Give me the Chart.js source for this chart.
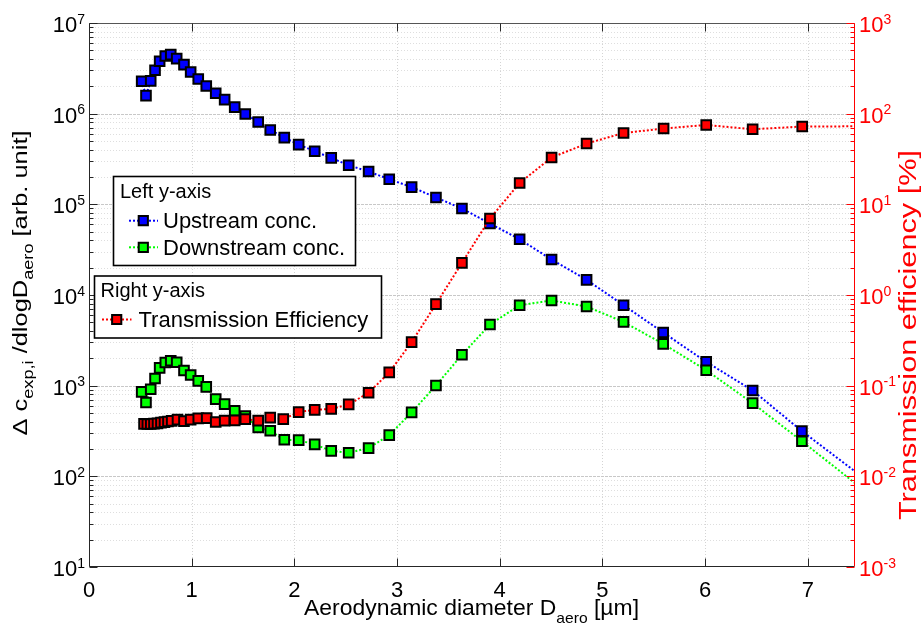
<!DOCTYPE html>
<html>
<head>
<meta charset="utf-8">
<script src="https://cdn.jsdelivr.net/npm/chart.js@4/dist/chart.umd.min.js"></script>
<style>
html,body{margin:0;padding:0;background:#ffffff;}
#wrap{width:921px;height:626px;position:relative;}
</style>
</head>
<body>
<div id="wrap"><canvas id="c" width="921" height="626"></canvas></div>
<script>
// ---------------- data ----------------
const diameterUpDown = [0.513,0.555,0.601,0.643,0.688,0.743,0.796,0.854,0.925,0.990,1.064,1.142,1.234,1.321,1.419,1.522,1.648,1.765,1.902,2.042,2.198,2.359,2.529,2.723,2.924,3.142,3.379,3.632,3.905,4.194,4.505,4.846,5.206,5.592,6.011,6.463,6.943,7.55];
const upstreamConc = [2.28e6,1.58e6,2.30e6,3.01e6,3.78e6,4.33e6,4.48e6,4.05e6,3.47e6,2.88e6,2.41e6,2.02e6,1.68e6,1.43e6,1.18e6,9.93e5,8.10e5,6.61e5,5.45e5,4.56e5,3.85e5,3.25e5,2.70e5,2.30e5,1.89e5,1.55e5,1.19e5,8.99e4,6.14e4,4.12e4,2.46e4,1.47e4,7.72e3,3.86e3,1.83e3,885,315,95];
const downstreamConc = [855,653,914,1200,1570,1800,1880,1810,1470,1310,1130,971,710,625,527,461,346,318,253,251,225,191,182,205,285,507,1005,2190,4730,7720,8700,7460,5050,2890,1480,641,244,70];
const diameterTransmission = [0.536,0.568,0.601,0.633,0.667,0.701,0.735,0.769,0.805,0.862,0.925,0.990,1.064,1.146,1.234,1.321,1.419,1.522,1.648,1.765,1.892,2.042,2.198,2.359,2.529,2.723,2.924,3.142,3.379,3.632,3.905,4.194,4.505,4.846,5.206,5.596,6.011,6.463,6.946,7.55];
const transmissionEff = [0.0379,0.0378,0.0378,0.0381,0.0384,0.0391,0.0396,0.0403,0.0409,0.0422,0.0406,0.0422,0.0436,0.0438,0.0398,0.0411,0.0414,0.0427,0.0411,0.0444,0.0427,0.0511,0.0541,0.0555,0.0621,0.0834,0.140,0.302,0.792,2.26,6.97,17.2,32.8,46.8,61.2,68.5,75.1,67.3,72.1,72.6];
const xTickValues = [0,1,2,3,4,5,6,7];
const leftDecadeExponents = [1,2,3,4,5,6,7];
const rightDecadeExponents = [-3,-2,-1,0,1,2,3];
const seriesNames = ['Upstream conc.','Downstream conc.','Transmission Efficiency'];
const legendTitles = ['Left y-axis','Right y-axis'];

// ---------------- helpers ----------------
const FONT = "'Liberation Sans', Arial, Helvetica, sans-serif";
const toPts = (xs, ys) => xs.map((x, i) => ({x: x, y: ys[i]}));

function richWidth(ctx, segs){
  let w = 0;
  for (const s of segs){ ctx.font = s.size + 'px ' + FONT; w += ctx.measureText(s.text).width; }
  return w;
}
function drawRich(ctx, segs, x, y, o){
  o = o || {};
  ctx.save();
  ctx.translate(x, y);
  if (o.rotate) ctx.rotate(o.rotate);
  let w = richWidth(ctx, segs);
  let st = o.stretch || 1;
  if (o.length) st = o.length / w;
  ctx.scale(st, 1);
  let cx = o.align === 'center' ? -w/2 : (o.align === 'right' ? -w : 0);
  ctx.fillStyle = o.color || '#000';
  ctx.textAlign = 'left';
  ctx.textBaseline = 'alphabetic';
  for (const s of segs){
    ctx.font = s.size + 'px ' + FONT;
    ctx.fillText(s.text, cx, s.dy || 0);
    cx += ctx.measureText(s.text).width;
  }
  ctx.restore();
}
function marker(ctx, x, y, fill){
  ctx.save();
  ctx.fillStyle = fill; ctx.strokeStyle = '#000'; ctx.lineWidth = 2;
  ctx.beginPath(); ctx.rect(x - 4.6, y - 4.6, 9.2, 9.2); ctx.fill(); ctx.stroke();
  ctx.restore();
}
function dottedLine(ctx, x1, y1, x2, y2, color){
  ctx.save();
  ctx.strokeStyle = color; ctx.lineWidth = 2; ctx.setLineDash([2,2]);
  ctx.beginPath(); ctx.moveTo(x1, y1); ctx.lineTo(x2, y2); ctx.stroke();
  ctx.restore();
}

// ---------------- grid / axes / text plugin ----------------
const matlabAxes = {
  id: 'matlabAxes',
  beforeDatasetsDraw(chart){
    const ctx = chart.ctx, a = chart.chartArea;
    const xs = chart.scales.x, ys = chart.scales.y;
    ctx.save();
    ctx.lineWidth = 1;
    // x major grid
    ctx.strokeStyle = '#d4d4d4'; ctx.setLineDash([1,2]);
    for (const v of xTickValues){
      const px = Math.round(xs.getPixelForValue(v)) + 0.5;
      if (px <= a.left + 1 || px >= a.right - 1) continue;
      ctx.beginPath(); ctx.moveTo(px, a.top); ctx.lineTo(px, a.bottom); ctx.stroke();
    }
    // y minor + major grid (log)
    for (let k = 0; k < leftDecadeExponents.length; k++){
      const e = leftDecadeExponents[k];
      for (let m = 1; m <= 9; m++){
        if (k === leftDecadeExponents.length - 1 && m > 1) break;
        const py = Math.round(ys.getPixelForValue(m * Math.pow(10, e))) + 0.5;
        if (py <= a.top + 1 || py >= a.bottom - 1) continue;
        ctx.strokeStyle = m === 1 ? '#c8c8c8' : '#dedede';
        ctx.setLineDash(m === 1 ? [3,1] : [1,2]);
        ctx.beginPath(); ctx.moveTo(a.left, py); ctx.lineTo(a.right, py); ctx.stroke();
      }
    }
    ctx.restore();
  },
  afterDatasetsDraw(chart){
    const ctx = chart.ctx, a = chart.chartArea;
    const xs = chart.scales.x, ys = chart.scales.y, y2 = chart.scales.y2;
    const axisCol = '#262626', red = '#ff0000';
    ctx.save();
    ctx.lineWidth = 1; ctx.setLineDash([]);
    const L = Math.round(a.left) + 0.5, R = Math.round(a.right) - 0.5;
    const T = Math.round(a.top) + 0.5, B = Math.round(a.bottom) - 0.5;
    ctx.strokeStyle = axisCol;
    ctx.beginPath(); ctx.moveTo(L, T); ctx.lineTo(L, B); ctx.lineTo(R, B); ctx.stroke();
    ctx.strokeStyle = '#555555';
    ctx.beginPath(); ctx.moveTo(L, T); ctx.lineTo(R, T); ctx.stroke();
    ctx.strokeStyle = axisCol;
    for (const v of xTickValues){
      const px = Math.round(xs.getPixelForValue(v)) + 0.5;
      ctx.beginPath(); ctx.moveTo(px, B); ctx.lineTo(px, B - 8); ctx.stroke();
      ctx.beginPath(); ctx.moveTo(px, T); ctx.lineTo(px, T + 8); ctx.stroke();
    }
    for (let k = 0; k < leftDecadeExponents.length; k++){
      const e = leftDecadeExponents[k];
      for (let m = 1; m <= 9; m++){
        if (k === leftDecadeExponents.length - 1 && m > 1) break;
        const py = Math.round(ys.getPixelForValue(m * Math.pow(10, e))) + 0.5;
        ctx.beginPath(); ctx.moveTo(L, py); ctx.lineTo(L + (m === 1 ? 8 : 4), py); ctx.stroke();
      }
    }
    ctx.strokeStyle = red;
    ctx.beginPath(); ctx.moveTo(R, T); ctx.lineTo(R, B); ctx.stroke();
    for (let k = 0; k < rightDecadeExponents.length; k++){
      const e = rightDecadeExponents[k];
      for (let m = 1; m <= 9; m++){
        if (k === rightDecadeExponents.length - 1 && m > 1) break;
        const py = Math.round(y2.getPixelForValue(m * Math.pow(10, e))) + 0.5;
        ctx.beginPath(); ctx.moveTo(R, py); ctx.lineTo(R - (m === 1 ? 8 : 4), py); ctx.stroke();
      }
    }
    ctx.restore();

    // tick labels
    for (const e of leftDecadeExponents){
      const py = ys.getPixelForValue(Math.pow(10, e));
      drawRich(ctx, [{text:'10', size:22}, {text:String(e), size:14, dy:-8.5}], a.left - 4, py + 9, {align:'right'});
    }
    for (const e of rightDecadeExponents){
      const py = y2.getPixelForValue(Math.pow(10, e));
      drawRich(ctx, [{text:'10', size:22}, {text:String(e), size:14, dy:-8.5}], a.right + 4, py + 9, {align:'left', color:red});
    }
    for (const v of xTickValues){
      const px = xs.getPixelForValue(v);
      drawRich(ctx, [{text:String(v), size:22}], px, 597, {align:'center'});
    }
    // axis titles
    drawRich(ctx, [
      {text:'Aerodynamic diameter D', size:22},
      {text:'aero', size:15, dy:8},
      {text:' [\u00b5m]', size:22}
    ], 471.5, 615, {align:'center', length:335});
    drawRich(ctx, [
      {text:'\u0394 c', size:21},
      {text:'exp,i', size:15, dy:6},
      {text:' /dlogD', size:21},
      {text:'aero', size:15, dy:6},
      {text:' [arb. unit]', size:21}
    ], 27, 283, {align:'center', rotate:-Math.PI/2, length:305});
    drawRich(ctx, [{text:'Transmission efficiency [%]', size:23}], 916, 335,
      {align:'center', rotate:-Math.PI/2, length:370, color:red});
  },
  afterDraw(chart){
    const ctx = chart.ctx;
    ctx.save();
    ctx.fillStyle = '#fff'; ctx.strokeStyle = '#000'; ctx.lineWidth = 1.6;
    ctx.fillRect(113.5, 176.5, 242, 89); ctx.strokeRect(113.5, 176.5, 242, 89);
    ctx.fillRect(94.5, 276, 287, 62); ctx.strokeRect(94.5, 276, 287, 62);
    ctx.restore();
    drawRich(ctx, [{text:legendTitles[0], size:20}], 120, 198, {});
    dottedLine(ctx, 129, 220.7, 158, 220.7, '#0000ff');
    marker(ctx, 143.3, 220.7, '#0000ff');
    drawRich(ctx, [{text:seriesNames[0], size:22}], 163, 228, {});
    dottedLine(ctx, 129, 247.3, 158, 247.3, '#00ff00');
    marker(ctx, 143.3, 247.3, '#00ff00');
    drawRich(ctx, [{text:seriesNames[1], size:22}], 163, 255, {});
    drawRich(ctx, [{text:legendTitles[1], size:20}], 100.5, 297, {});
    dottedLine(ctx, 102, 319.5, 131.5, 319.5, '#ff0000');
    marker(ctx, 116.7, 319.5, '#ff0000');
    drawRich(ctx, [{text:seriesNames[2], size:22}], 138.5, 327, {});
  }
};

// ---------------- chart ----------------
const common = {
  borderWidth: 2, borderDash: [2,2], tension: 0, fill: false,
  pointStyle: 'rect', pointRadius: 6.8, pointHoverRadius: 6.8,
  pointBorderWidth: 2, pointBorderColor: '#000000', clip: 0
};
new Chart(document.getElementById('c'), {
  type: 'line',
  data: {
    datasets: [
      Object.assign({label: seriesNames[2], data: toPts(diameterTransmission, transmissionEff), yAxisID: 'y2',
        borderColor: '#ff0000', pointBackgroundColor: '#ff0000'}, common),
      Object.assign({label: seriesNames[1], data: toPts(diameterUpDown, downstreamConc), yAxisID: 'y',
        borderColor: '#00ff00', pointBackgroundColor: '#00ff00'}, common),
      Object.assign({label: seriesNames[0], data: toPts(diameterUpDown, upstreamConc), yAxisID: 'y',
        borderColor: '#0000ff', pointBackgroundColor: '#0000ff'}, common)
    ]
  },
  options: {
    responsive: false, animation: false, devicePixelRatio: 1,
    layout: {padding: {left: 89, right: 66, top: 23, bottom: 59}},
    plugins: {legend: {display: false}, tooltip: {enabled: false}, title: {display: false}},
    events: [],
    scales: {
      x: {type: 'linear', min: 0, max: 7.46, ticks: {display: false}, grid: {display: false}, border: {display: false},
          afterFit(s){ s.height = 0; }},
      y: {type: 'logarithmic', position: 'left', min: 10, max: 1e7, ticks: {display: false}, grid: {display: false}, border: {display: false},
          afterFit(s){ s.width = 0; }},
      y2: {type: 'logarithmic', position: 'right', min: 1e-3, max: 1e3, ticks: {display: false}, grid: {display: false}, border: {display: false},
          afterFit(s){ s.width = 0; }}
    }
  },
  plugins: [matlabAxes]
});
</script>
</body>
</html>
